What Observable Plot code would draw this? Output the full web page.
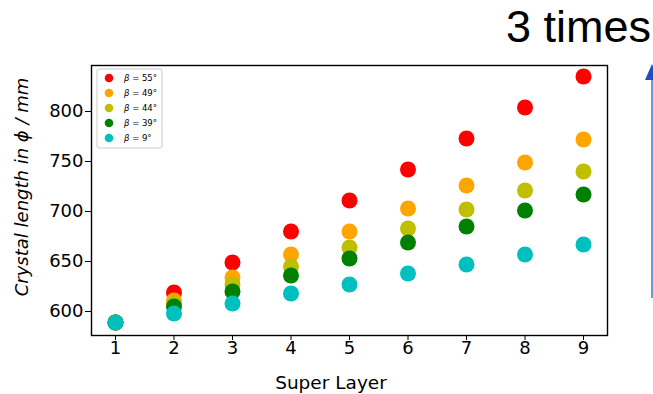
<!DOCTYPE html>
<html>
<head>
<meta charset="utf-8">
<script src="https://cdn.jsdelivr.net/npm/d3@7"></script>
<script src="https://cdn.jsdelivr.net/npm/@observablehq/plot@0.6"></script>
<style>
  html, body { margin: 0; padding: 0; background: #fff; }
  #wrap { position: relative; width: 653px; height: 394px; overflow: hidden; }
  #title { position: absolute; left: 506px; top: 4px; font-family: "Liberation Sans", Arial, sans-serif; font-size: 45px; line-height: 45px; color: #000; white-space: nowrap; }
</style>
</head>
<body>
<div id="wrap"><div id="title">3 times</div></div>
<script>
const layers = [1, 2, 3, 4, 5, 6, 7, 8, 9];
const seriesNames = ["β = 55°", "β = 49°", "β = 44°", "β = 39°", "β = 9°"];
const seriesColors = ["#ff0000", "#ffa500", "#bfbf00", "#008000", "#00bfbf"];
const beta55 = [589, 619, 649, 680, 711, 742, 773, 804, 835];
const beta49 = [589, 611, 634, 657, 680, 703, 726, 749, 772];
const beta44 = [589, 608, 627, 645, 664, 683, 702, 721, 740];
const beta39 = [589, 605, 620, 636, 653, 669, 685, 701, 717];
const beta9  = [589, 598, 608, 618, 627, 638, 647, 657, 667];
const yTicks = [600, 650, 700, 750, 800];
const xTicks = [1, 2, 3, 4, 5, 6, 7, 8, 9];

const allSeries = [beta55, beta49, beta44, beta39, beta9];
const data = [];
allSeries.forEach((vals, si) => {
  vals.forEach((v, i) => data.push({layer: layers[i], value: v, series: seriesNames[si]}));
});

const W = 653, H = 394;
const chart = Plot.plot({
  width: W,
  height: H,
  marginLeft: 91,
  marginRight: 46,
  marginTop: 65,
  marginBottom: 59,
  style: { fontFamily: "'DejaVu Sans', sans-serif", fontSize: "18px", background: "transparent" },
  x: { domain: [0.59, 9.41], ticks: xTicks },
  y: { domain: [576, 846], ticks: yTicks },
  color: { domain: seriesNames, range: seriesColors },
  marks: [
    Plot.dot(data, { x: "layer", y: "value", fill: "series", r: 8, stroke: "none" }),
    Plot.frame({ stroke: "#000", strokeWidth: 1.4 }),
    Plot.axisX({ ticks: xTicks, tickSize: 5, tickPadding: 1, fontSize: 18, label: null, tickFormat: d => String(d) }),
    Plot.axisY({ ticks: yTicks, tickSize: 6, tickPadding: 2, fontSize: 18, label: null, tickFormat: d => String(d) })
  ]
});
document.getElementById("wrap").appendChild(chart);

const svg = d3.select(chart);
svg.selectAll("g[aria-label$='tick label']").attr("font-size", 18).style("font-size", "18px");
svg.selectAll("g[aria-label$='tick label'] text").style("font-size", "18px");

// axis labels
svg.append("text")
  .attr("x", 331).attr("y", 389)
  .attr("text-anchor", "middle")
  .attr("font-family", "'DejaVu Sans', sans-serif")
  .attr("font-size", 18.5)
  .text("Super Layer");
svg.append("text")
  .attr("transform", "translate(28,187) rotate(-90)")
  .attr("text-anchor", "middle")
  .attr("font-family", "'DejaVu Sans', sans-serif")
  .attr("font-style", "italic")
  .attr("font-size", 18)
  .text("Crystal length in ϕ / mm");

// legend
const lg = svg.append("g");
lg.append("rect").attr("x", 97).attr("y", 69).attr("width", 65).attr("height", 79)
  .attr("rx", 2).attr("fill", "#fff").attr("stroke", "#cccccc").attr("stroke-width", 1);
const rowY = [78, 93, 108, 123, 138];
seriesNames.forEach((n, i) => {
  lg.append("circle").attr("cx", 109).attr("cy", rowY[i]).attr("r", 4.3).attr("fill", seriesColors[i]);
  const t = lg.append("text").attr("x", 124).attr("y", rowY[i] + 3)
    .attr("text-anchor", "start")
    .attr("font-family", "'DejaVu Sans', sans-serif").attr("font-size", 8.5);
  t.append("tspan").attr("font-style", "italic").text("β");
  t.append("tspan").text(n.slice(1));
});

// arrow
svg.append("line").attr("x1", 652).attr("x2", 652).attr("y1", 76).attr("y2", 298)
  .attr("stroke", "#4472c4").attr("stroke-width", 1.5);
svg.append("path").attr("d", "M652,64 L659,80 L645,80 Z").attr("fill", "#1f4fbf");
</script>
</body>
</html>
